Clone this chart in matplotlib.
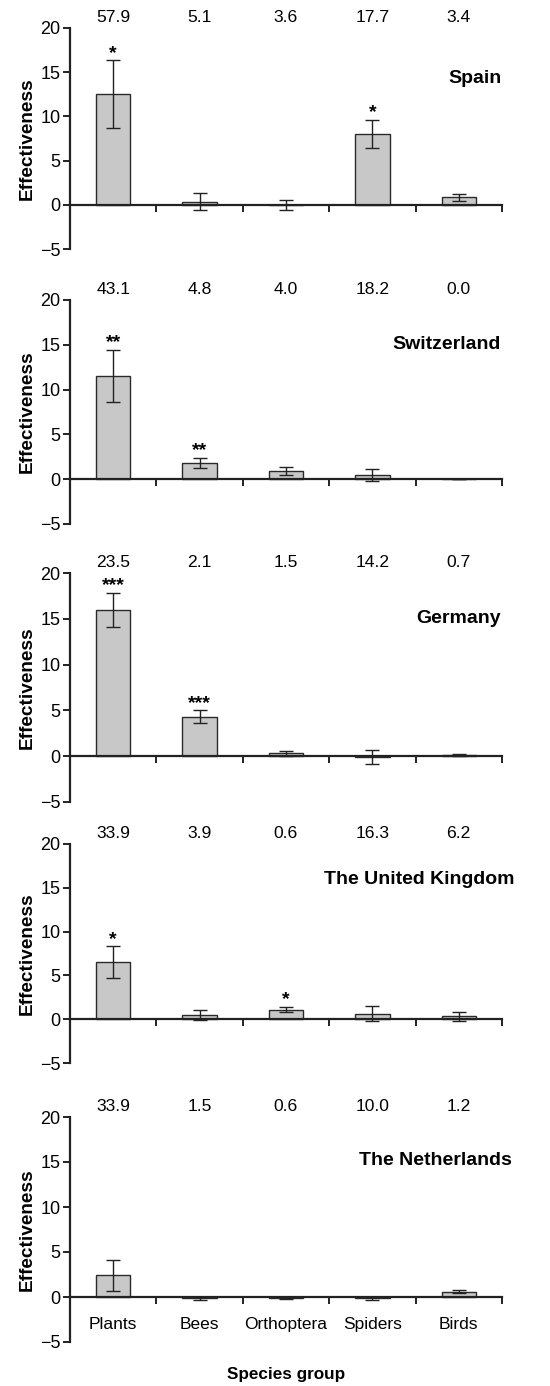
import matplotlib
matplotlib.use("Agg")
import matplotlib.pyplot as plt
import numpy as np

plt.rcParams['font.family'] = ['Liberation Sans', 'DejaVu Sans']

categories = ["Plants", "Bees", "Orthoptera", "Spiders", "Birds"]
countries = ["Spain", "Switzerland", "Germany", "The United Kingdom", "The Netherlands"]

spain_mean = [12.5, 0.35, 0.0, 8.0, 0.85]
spain_err = [3.85, 0.95, 0.55, 1.6, 0.4]
spain_n = ["57.9", "5.1", "3.6", "17.7", "3.4"]
spain_sig = ["*", "", "", "*", ""]

swiss_mean = [11.5, 1.85, 0.9, 0.45, 0.05]
swiss_err = [2.9, 0.55, 0.45, 0.7, 0.0]
swiss_n = ["43.1", "4.8", "4.0", "18.2", "0.0"]
swiss_sig = ["**", "**", "", "", ""]

germany_mean = [16.0, 4.3, 0.3, -0.1, 0.15]
germany_err = [1.85, 0.7, 0.3, 0.75, 0.1]
germany_n = ["23.5", "2.1", "1.5", "14.2", "0.7"]
germany_sig = ["***", "***", "", "", ""]

uk_mean = [6.5, 0.5, 1.1, 0.65, 0.35]
uk_err = [1.8, 0.55, 0.3, 0.8, 0.5]
uk_n = ["33.9", "3.9", "0.6", "16.3", "6.2"]
uk_sig = ["*", "", "*", "", ""]

nl_mean = [2.4, -0.15, -0.15, -0.15, 0.6]
nl_err = [1.7, 0.2, 0.1, 0.2, 0.2]
nl_n = ["33.9", "1.5", "0.6", "10.0", "1.2"]
nl_sig = ["", "", "", "", ""]

panels = [
    (spain_mean, spain_err, spain_n, spain_sig),
    (swiss_mean, swiss_err, swiss_n, swiss_sig),
    (germany_mean, germany_err, germany_n, germany_sig),
    (uk_mean, uk_err, uk_n, uk_sig),
    (nl_mean, nl_err, nl_n, nl_sig),
]

W, H = 550, 1386
fig = plt.figure(figsize=(W / 100, H / 100), dpi=100)

# pixel layout (top, bottom) for each panel
tops = [28, 300, 573, 844, 1117]
bottoms = [249, 524, 802, 1063, 1342]
left_px, right_px = 70, 502
label_x = [4.49, 4.49, 4.49, 4.65, 4.62]
label_y = [14.3, 15.0, 15.0, 15.9, 15.2]

x = np.arange(len(categories))
for i, (mean, err, ns, sig) in enumerate(panels):
    ax = fig.add_axes([left_px / W, 1 - bottoms[i] / H,
                       (right_px - left_px) / W, (bottoms[i] - tops[i]) / H])
    ax.bar(x, mean, width=0.4, color="#c8c8c8", edgecolor="#2a2a2a", linewidth=1.0, zorder=2)
    ax.errorbar(x, mean, yerr=err, fmt='none', ecolor="#222222", elinewidth=1.0,
                capsize=5, capthick=1.0, zorder=3)
    ax.set_xlim(-0.5, 4.5)
    ax.set_ylim(-5, 20)
    ax.set_yticks([-5, 0, 5, 10, 15, 20])
    ax.set_yticklabels(["\u22125", "0", "5", "10", "15", "20"])
    for s in ["top", "right"]:
        ax.spines[s].set_visible(False)
    ax.spines["bottom"].set_position(("data", 0))
    ax.spines["bottom"].set_zorder(4)
    ax.spines["left"].set_linewidth(1.6)
    ax.spines["bottom"].set_linewidth(1.6)
    ax.spines["left"].set_color("#222222")
    ax.spines["bottom"].set_color("#222222")
    ax.set_xticks(x + 0.5)
    ax.set_xticklabels([])
    ax.tick_params(axis="x", direction="out", length=5, width=1.4, color="#222222")
    ax.tick_params(axis="y", direction="out", length=5, width=1.4, color="#222222",
                   labelsize=13, pad=2)
    ax.set_ylabel("Effectiveness", fontsize=13.7, fontweight="bold", labelpad=3)
    ax.patch.set_visible(False)
    for j in range(len(categories)):
        ax.text(x[j], 21.2, ns[j], ha="center", va="center", fontsize=12.6, clip_on=False)
        if sig[j]:
            ax.text(x[j], mean[j] + err[j] + 0.3, sig[j], ha="center", va="baseline",
                    fontsize=14, fontweight="bold")
    ax.text(label_x[i], label_y[i], countries[i], ha="right", va="center",
            fontsize=14, fontweight="bold")
    if i == len(panels) - 1:
        for j, c in enumerate(categories):
            ax.text(x[j], -3.1, c, ha="center", va="center", fontsize=12.5)
        ax.text(2.0, -8.6, "Species group", ha="center", va="center",
                fontsize=12.3, fontweight="bold", clip_on=False)

fig.savefig("out.png", dpi=100)
